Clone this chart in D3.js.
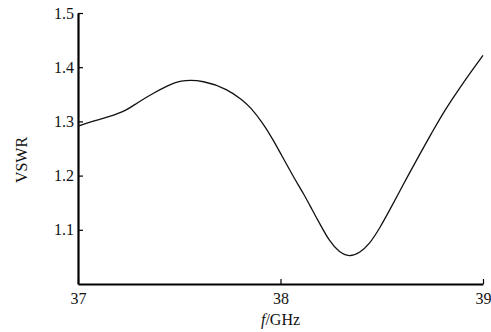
<!doctype html>
<html>
<head>
<meta charset="UTF-8">
<script src="https://d3js.org/d3.v7.min.js"></script>
<style>
  body { margin: 0; background: #fff; }
  text { font-family: "Liberation Serif", "Times New Roman", serif; }
</style>
</head>
<body>
<script>
// frequency (GHz) and VSWR
const freq = [37.00, 37.07, 37.15, 37.24, 37.29, 37.38, 37.44, 37.50, 37.62, 37.74,
              37.81, 37.85, 37.915, 37.965, 38.015, 38.065, 38.115, 38.155, 38.20, 38.24,
              38.29, 38.34, 38.39, 38.44, 38.49, 38.54, 38.59, 38.64, 38.69, 38.75,
              38.81, 38.88, 38.94, 39.00];
const vswr = [1.291, 1.300, 1.308, 1.320, 1.334, 1.354, 1.365, 1.376, 1.376, 1.359,
              1.340, 1.327, 1.296, 1.265, 1.231, 1.197, 1.166, 1.138, 1.107, 1.080,
              1.058, 1.050, 1.057, 1.074, 1.103, 1.137, 1.172, 1.207, 1.241, 1.281,
              1.320, 1.359, 1.391, 1.422];
const xTicks = [37, 38, 39];
const yTicks = [1.1, 1.2, 1.3, 1.4, 1.5];

const margin = {top: 13, right: 8, bottom: 48, left: 78};
const W = 491, H = 332;
const width = W - margin.left - margin.right;
const height = H - margin.top - margin.bottom;

const svg = d3.select("body").append("svg")
    .attr("width", W)
    .attr("height", H);
const g = svg.append("g")
    .attr("transform", "translate(" + margin.left + "," + margin.top + ")");

const x = d3.scaleLinear().domain([37, 39]).range([0, width]);
const y = d3.scaleLinear().domain([1.0, 1.5]).range([height, 0]);

const xAxis = g.append("g")
    .attr("transform", "translate(0," + height + ")")
    .call(d3.axisBottom(x).tickValues(xTicks).tickSizeInner(-5).tickSizeOuter(0).tickPadding(9).tickFormat(d3.format("d")));
const yAxis = g.append("g")
    .call(d3.axisLeft(y).tickValues(yTicks).tickSizeInner(-5).tickSizeOuter(0).tickPadding(4).tickFormat(d3.format(".1f")));

[xAxis, yAxis].forEach(function(a) {
  a.attr("font-family", "Liberation Serif").attr("font-size", 16);
  a.select(".domain").attr("stroke", "#000").attr("stroke-width", 2.2);
  a.selectAll(".tick line").attr("stroke", "#000").attr("stroke-width", 1.2);
  a.selectAll(".tick text").attr("fill", "#111");
});

const data = freq.map(function(f, i) { return {f: f, v: vswr[i]}; });

g.append("path")
    .datum(data)
    .attr("fill", "none")
    .attr("stroke", "#111")
    .attr("stroke-width", 1.3)
    .attr("d", d3.line()
      .x(function(d) { return x(d.f); })
      .y(function(d) { return y(d.v); })
      .curve(d3.curveBasis));

// axis titles
const xt = svg.append("text")
    .attr("x", margin.left + x(38))
    .attr("y", 325)
    .attr("text-anchor", "middle")
    .style("font-size", "16px")
    .attr("fill", "#111");
xt.append("tspan").style("font-style", "italic").text("f");
xt.append("tspan").text("/GHz");

svg.append("text")
    .attr("transform", "translate(27,160) rotate(-90)")
    .attr("text-anchor", "middle")
    .style("font-size", "16px")
    .attr("fill", "#111")
    .text("VSWR");
</script>
</body>
</html>
